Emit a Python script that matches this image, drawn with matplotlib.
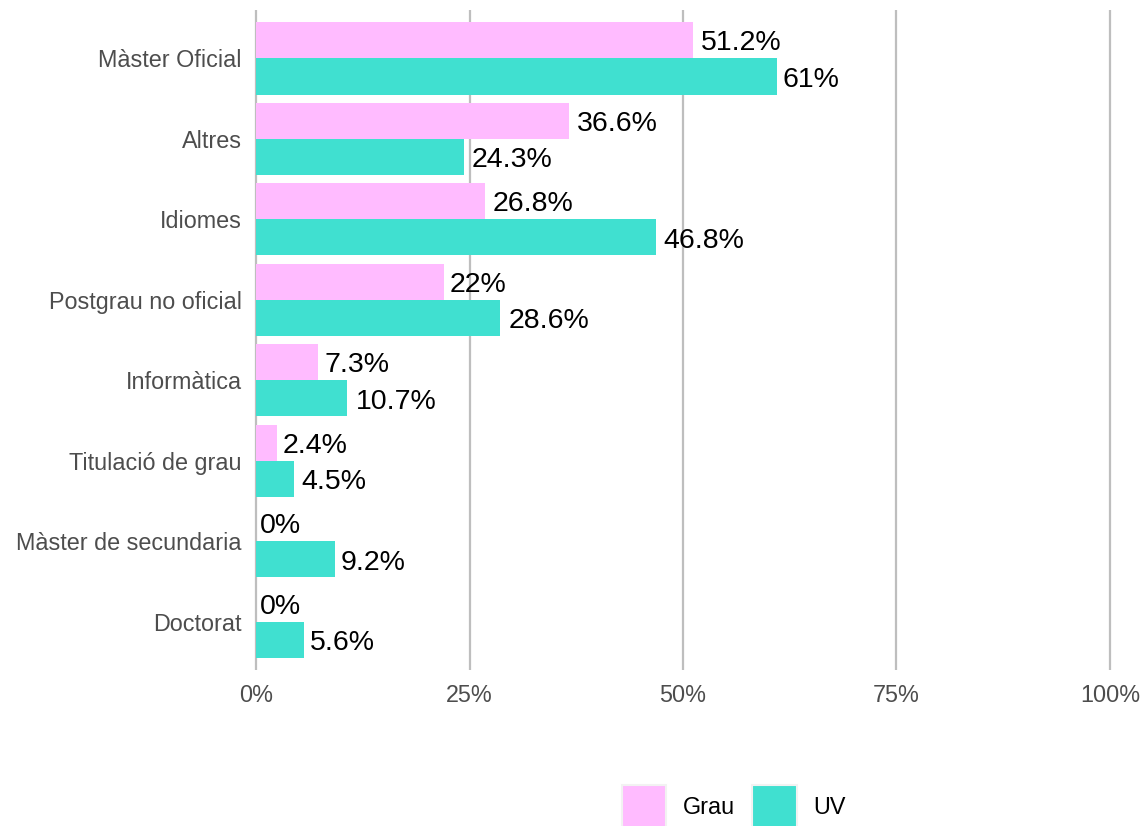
import numpy as np
import matplotlib
matplotlib.use("Agg")
import matplotlib.pyplot as plt
from matplotlib.patches import Patch

plt.rcParams['font.family'] = ['Liberation Sans', 'DejaVu Sans']

# data (top to bottom as in the chart)
categories = ["Màster Oficial", "Altres", "Idiomes", "Postgrau no oficial",
              "Informàtica", "Titulació de grau", "Màster de secundaria", "Doctorat"]
grau = [51.2, 36.6, 26.8, 22, 7.3, 2.4, 0, 0]
uv = [61, 24.3, 46.8, 28.6, 10.7, 4.5, 9.2, 5.6]
xticks = [0, 25, 50, 75, 100]
series_names = ["Grau", "UV"]

pink = "#FFBBFF"
teal = "#40E0D0"
grey_txt = "#4D4D4D"
lab_size = 20.5

fig = plt.figure(figsize=(11.48, 8.26), dpi=100)
ax = fig.add_axes([247.5 / 1148, 1 - 670 / 826, 871 / 1148, 660 / 826])

n = len(categories)
pos = np.arange(n)[::-1]
h = 0.45
ax.barh(pos + h / 2, grau, height=h, color=pink, zorder=2)
ax.barh(pos - h / 2, uv, height=h, color=teal, zorder=2)

labels = []
for vals, off in ((grau, h / 2), (uv, -h / 2)):
    for v, p in zip(vals, pos):
        t = ax.annotate(f"{v:g}%", (v, p + off), xytext=(0, 0), textcoords="offset points",
                        ha="left", va="baseline", fontsize=lab_size, color="black", zorder=3)
        labels.append(t)

ax.set_xlim(-1, 101)
ax.set_ylim(-0.6, n - 0.4)
ax.set_xticks(xticks)
ax.set_xticklabels([f"{x}%" for x in xticks])
ax.set_yticks(pos)
ax.set_yticklabels(categories)
ax.tick_params(axis="both", length=0, labelsize=16.8, labelcolor=grey_txt)
ax.tick_params(axis="x", pad=10)
ax.tick_params(axis="y", pad=4)
for s in ax.spines.values():
    s.set_visible(False)
ax.grid(axis="x", color="#BEBEBE", linewidth=1.6, zorder=0)
ax.set_axisbelow(True)

# hjust = -0.1 style offset, vertically centred on the cap height
renderer = fig.canvas.get_renderer()
for t in labels:
    w = t.get_window_extent(renderer).width
    t.xyann = (0.1 * w * 72 / fig.dpi, -0.358 * lab_size)

handles = [Patch(facecolor=pink, edgecolor="#F2F2F2", linewidth=1.5),
           Patch(facecolor=teal, edgecolor="#F2F2F2", linewidth=1.5)]
fig.legend(handles, series_names, loc="center left", ncol=2, frameon=False,
           bbox_to_anchor=(622 / 1148, 1 - 807 / 826), fontsize=16.8,
           handlelength=1.9, handleheight=2.53, handletextpad=0.7,
           columnspacing=0.75, borderpad=0, borderaxespad=0)

fig.savefig("out.png", dpi=100)
